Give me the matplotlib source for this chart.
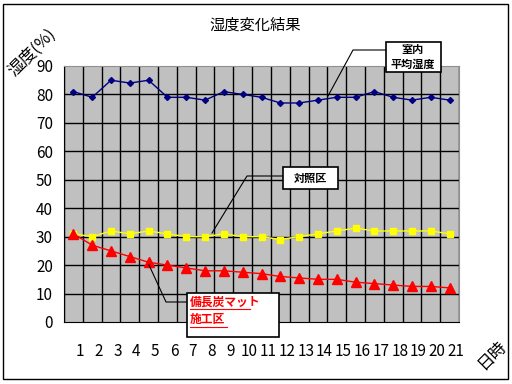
import matplotlib
matplotlib.use('Agg')
import matplotlib.pyplot as plt
from matplotlib.patches import Rectangle
from matplotlib.lines import Line2D
import matplotlib.transforms as mtransforms

plt.rcParams['font.family'] = ['Noto Sans CJK JP', 'DejaVu Sans']

# data
days = list(range(1, 22))
day_labels = [str(d) for d in days]
room_avg = [81, 79, 85, 84, 85, 79, 79, 78, 81, 80, 79, 77, 77, 78, 79, 79, 81, 79, 78, 79, 78]
control = [31, 30, 32, 31, 32, 31, 30, 30, 31, 30, 30, 29, 30, 31, 32, 33, 32, 32, 32, 32, 31]
mat_area = [31, 27, 25, 23, 21, 20, 19, 18, 18, 17.5, 17, 16, 15.5, 15, 15, 14, 13.5, 13, 12.5, 12.5, 12]
y_ticks = [0, 10, 20, 30, 40, 50, 60, 70, 80, 90]

W, H = 512, 384

fig = plt.figure(figsize=(5.12, 3.84), dpi=100)
fig.patch.set_facecolor('white')


def px(x, y):
    # pixel position (from top-left) -> figure fraction
    return x / W, 1 - y / H


def box(x0, y0, x1, y1):
    fx, fy = px(x0, y1)
    fig.patches.append(Rectangle((fx, fy), (x1 - x0) / W, (y1 - y0) / H, transform=fig.transFigure,
                                 facecolor='white', edgecolor='black', linewidth=1.2, zorder=5))


def line(pts):
    xs = [px(*p)[0] for p in pts]
    ys = [px(*p)[1] for p in pts]
    fig.lines.append(Line2D(xs, ys, transform=fig.transFigure, color='black', linewidth=0.8, zorder=4))


fig.patches.append(Rectangle((3 / W, 5 / H), 505 / W, 375 / H, transform=fig.transFigure,
                             fill=False, edgecolor='black', linewidth=1))

ax = fig.add_axes([64 / W, 1 - 322 / H, 395 / W, 256 / H])
ax.set_facecolor('#C0C0C0')
ax.set_xlim(0.5, 21.5)
ax.set_ylim(0, 90)

# grid
for x in [d + 0.5 for d in range(0, 22)]:
    ax.axvline(x, color='black', linewidth=1, zorder=1)
for y in y_ticks[1:-1]:
    ax.axhline(y, color='black', linewidth=1, zorder=1)
for s in ['top', 'right']:
    ax.spines[s].set_color('#909090')
ax.spines['left'].set_color('black')
ax.spines['bottom'].set_color('black')

ax.plot(days, room_avg, color='#000080', marker='D', markersize=3, linewidth=1, zorder=3)
ax.plot(days, control, color='#FFFF00', marker='s', markersize=4.5, linewidth=1, zorder=3)
ax.plot(days, mat_area, color='#FF0000', marker='^', markersize=7, linewidth=1, zorder=3)

ax.set_xticks([])
ax.set_yticks(y_ticks)
ax.set_yticklabels([str(v) for v in y_ticks], fontsize=11)
ax.tick_params(axis='y', length=0, pad=8)

# x tick labels, shifted right like the original
trans = mtransforms.blended_transform_factory(ax.transData, fig.transFigure)
for d, lab in zip(days, day_labels):
    ax.text(d + 0.35, 1 - 352 / H, lab, transform=trans, ha='center', va='center',
            fontsize=11, clip_on=False)

fig.text(*px(255, 25), '湿度変化結果', ha='center', va='center', fontsize=11)
fig.text(*px(32, 52), '湿度(%)', ha='center', va='center', fontsize=12, rotation=45)
fig.text(*px(492, 355), '日時', ha='center', va='center', fontsize=12, rotation=45)

# callouts
line([(328, 96), (353, 50), (386, 50)])
box(386, 42, 441, 72)
fig.text(*px(413, 57), '室内\n平均湿度', ha='center', va='center', fontsize=8,
         fontweight='bold', linespacing=1.2, zorder=6)

line([(212, 233), (247, 176), (283, 176)])
box(283, 167, 338, 189)
fig.text(*px(311, 178), '対照区', ha='center', va='center', fontsize=8,
         fontweight='bold', zorder=6)

line([(149, 265), (166, 302), (187, 302)])
box(187, 293, 279, 337)
fig.text(*px(190, 302), '備長炭マット', ha='left', va='center', fontsize=8.5,
         fontweight='bold', color='#FF0000', zorder=6)
fig.text(*px(190, 320), '施工区', ha='left', va='center', fontsize=8.5,
         fontweight='bold', color='#FF0000', zorder=6)
fig.lines.append(Line2D([px(190, 0)[0], px(250, 0)[0]], [px(0, 309)[1]] * 2,
                        transform=fig.transFigure, color='#FF0000', linewidth=0.8, zorder=6))
fig.lines.append(Line2D([px(190, 0)[0], px(227, 0)[0]], [px(0, 327)[1]] * 2,
                        transform=fig.transFigure, color='#FF0000', linewidth=0.8, zorder=6))

fig.savefig('out.png', dpi=100)
